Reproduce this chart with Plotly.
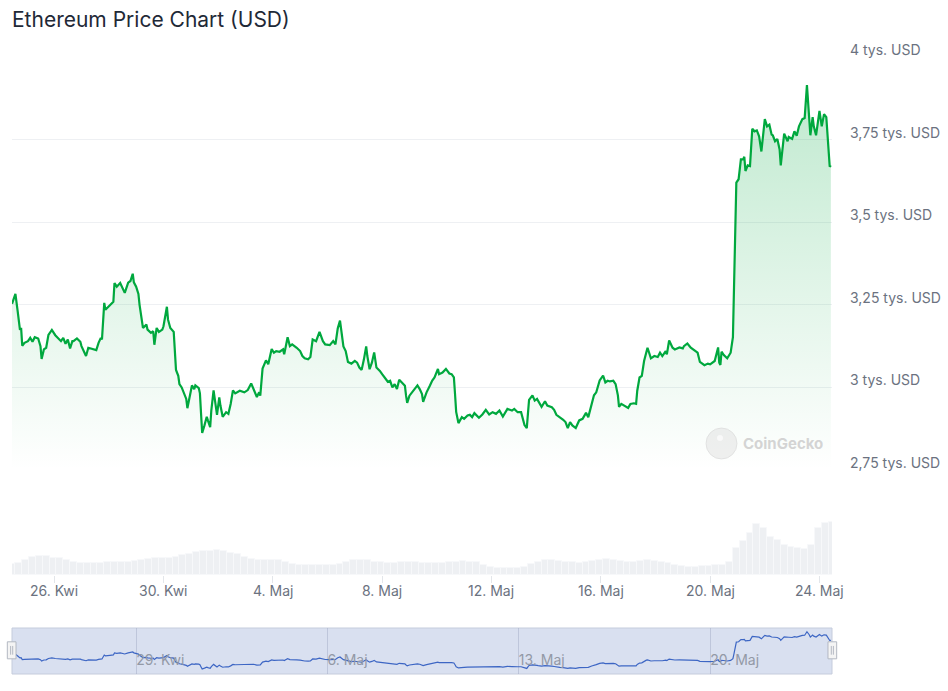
"""Ethereum price chart (USD), CoinGecko style, rebuilt with plotly."""
import pandas as pd
import plotly.graph_objects as go

# --- Data ---
START = pd.Timestamp("2024-04-24 11:00")
END = START + pd.Timedelta(hours=720)

# hours since START, price in USD
price_hours = [
    0, 3, 5, 7, 8, 9, 11, 14, 16, 18, 20, 23, 25, 26, 28, 30, 32, 35, 38, 40,
    43, 45, 47, 49, 51, 53, 54, 57, 60, 61, 65, 67, 69, 72, 74, 76, 78, 79, 81, 82,
    86, 89, 90, 92, 95, 97, 99, 102, 104, 106, 107, 109, 111, 112, 114, 115, 118, 119, 122, 124,
    125, 127, 129, 132, 133, 136, 137, 139, 142, 143, 144, 146, 147, 149, 151, 153, 154, 156, 158, 160,
    161, 164, 165, 166, 167, 169, 171, 172, 174, 175, 177, 180, 182, 183, 185, 188, 190, 192, 194, 196,
    200, 204, 207, 210, 212, 215, 217, 218, 220, 223, 225, 226, 228, 230, 232, 235, 238, 239, 242, 244,
    246, 250, 253, 255, 257, 260, 262, 264, 267, 270, 273, 275, 279, 282, 284, 286, 288, 291, 293, 295,
    298, 301, 303, 305, 307, 309, 311, 312, 314, 316, 318, 320, 323, 325, 327, 330, 332, 334, 336, 338,
    340, 343, 345, 346, 347, 349, 352, 354, 356, 358, 360, 361, 364, 367, 369, 371, 373, 374, 375, 378,
    381, 384, 386, 388, 389, 390, 392, 395, 397, 400, 402, 404, 406, 409, 410, 413, 416, 419, 422, 425,
    428, 431, 433, 435, 439, 441, 444, 447, 450, 452, 453, 454, 457, 459, 461, 462, 465, 468, 470, 474,
    476, 478, 481, 484, 486, 488, 490, 492, 495, 498, 501, 504, 506, 509, 511, 513, 516, 519, 521, 523,
    525, 528, 530, 532, 533, 535, 538, 541, 543, 546, 548, 549, 551, 553, 555, 557, 558, 561, 564, 567,
    569, 571, 574, 575, 577, 580, 582, 586, 589, 590, 593, 596, 598, 602, 604, 606, 608, 611, 613, 617,
    620, 621, 622, 623, 625, 628, 631, 633, 634, 635, 636, 638, 640, 642, 643, 644, 646, 648, 650, 652,
    654, 656, 658, 661, 663, 665, 667, 668, 670, 672, 674, 675, 678, 681, 682, 685, 687, 689, 691, 694,
    696, 698, 700, 701, 703, 704, 706, 709, 711, 713, 715, 717, 718, 719,
]
price_usd = [
    3253, 3283, 3230, 3174, 3180, 3126, 3135, 3140, 3150, 3138, 3152, 3148, 3125, 3086, 3115, 3120, 3159, 3174, 3158, 3150,
    3140, 3150, 3132, 3145, 3118, 3140, 3140, 3148, 3138, 3125, 3095, 3120, 3118, 3115, 3113, 3135, 3150, 3145, 3256, 3235,
    3248, 3259, 3316, 3305, 3316, 3300, 3286, 3317, 3322, 3344, 3318, 3305, 3283, 3250, 3204, 3180, 3190, 3175, 3165, 3170,
    3129, 3180, 3168, 3175, 3185, 3244, 3205, 3180, 3168, 3100, 3053, 3035, 3010, 3000, 2985, 2965, 2937, 2975, 3006, 2995,
    3006, 2998, 2982, 2920, 2862, 2885, 2911, 2900, 2880, 2930, 2991, 2917, 2970, 2945, 2911, 2925, 2920, 2950, 2991, 2982,
    2990, 2985, 2992, 3012, 2995, 2971, 2985, 2975, 3057, 3082, 3070, 3085, 3116, 3105, 3110, 3108, 3115, 3100, 3152, 3125,
    3130, 3120, 3110, 3095, 3088, 3085, 3092, 3145, 3140, 3168, 3140, 3130, 3128, 3140, 3130, 3178, 3202, 3124, 3110, 3077,
    3072, 3080, 3075, 3060, 3053, 3085, 3124, 3095, 3055, 3075, 3106, 3060, 3050, 3040, 3030, 3017, 3020, 3000, 3010, 2995,
    3023, 3012, 3005, 2975, 2953, 2975, 2990, 3000, 3006, 2995, 2980, 2956, 2985, 3006, 3021, 3030, 3045, 3056, 3040, 3045,
    3056, 3042, 3040, 3030, 2980, 2926, 2892, 2910, 2905, 2915, 2917, 2910, 2922, 2912, 2908, 2918, 2932, 2918, 2925, 2920,
    2930, 2912, 2925, 2935, 2930, 2935, 2925, 2925, 2886, 2877, 2920, 2962, 2976, 2960, 2965, 2958, 2941, 2958, 2945, 2940,
    2932, 2917, 2910, 2902, 2895, 2877, 2895, 2885, 2877, 2900, 2905, 2923, 2910, 2946, 2976, 2985, 3021, 3036, 3015, 3020,
    3018, 3020, 3010, 2976, 2941, 2950, 2945, 2938, 2950, 2952, 2950, 2990, 3030, 3035, 3080, 3112, 3120, 3088, 3095, 3092,
    3105, 3095, 3110, 3100, 3142, 3120, 3115, 3121, 3118, 3125, 3133, 3120, 3115, 3105, 3077, 3072, 3067, 3072, 3070, 3080,
    3121, 3075, 3068, 3108, 3098, 3088, 3105, 3152, 3300, 3438, 3620, 3630, 3690, 3690, 3698, 3655, 3672, 3670, 3783, 3775,
    3778, 3760, 3714, 3812, 3790, 3795, 3765, 3763, 3745, 3752, 3720, 3672, 3768, 3745, 3758, 3752, 3775, 3762, 3790, 3812,
    3815, 3915, 3830, 3763, 3818, 3790, 3763, 3837, 3790, 3827, 3818, 3703, 3668, 3672,
]

# 24h volume, one value every 6 hours from START (relative units)
volume = [
    11, 12, 14, 17, 18.5, 18, 16, 16, 14, 12.5, 12, 12, 12, 12, 12.5, 13, 13, 13, 13.5, 14.5,
    15.5, 16.5, 16.5, 16, 17.5, 19, 20.5, 22, 23, 23.5, 24, 23, 21.5, 20, 17.5, 15.5, 14.5, 14.3, 14.3, 14,
    12.5, 10.5, 9.3, 9.3, 9.5, 10, 10, 10, 11, 13, 14, 14.3, 14.3, 13, 12.5, 12, 12, 12.5, 13, 12.5,
    12, 12, 12, 12, 12.5, 13, 13.3, 13, 12.7, 10, 7.5, 6.8, 6.7, 6.7, 6.7, 8, 10.5, 13, 14, 14.3,
    13.5, 12.7, 12.3, 12, 12.5, 13.3, 14.5, 15.3, 14.5, 13.3, 13, 12.7, 13.3, 14, 13.7, 13, 11.5, 9.5, 8.3, 7.7,
    7.7, 8.3, 9, 9.5, 10, 13, 26, 33, 40, 49, 45, 36.5, 33.5, 29, 27, 26, 25.5, 29, 45, 50,
    51,
]

y_ticks = [2750, 3000, 3250, 3500, 3750, 4000]
y_tick_labels = ["2,75 tys. USD", "3 tys. USD", "3,25 tys. USD", "3,5 tys. USD", "3,75 tys. USD", "4 tys. USD"]

x_ticks = ["2024-04-26", "2024-04-30", "2024-05-04", "2024-05-08",
           "2024-05-12", "2024-05-16", "2024-05-20", "2024-05-24"]
x_tick_labels = ["26. Kwi", "30. Kwi", "4. Maj", "8. Maj", "12. Maj", "16. Maj", "20. Maj", "24. Maj"]

nav_ticks = ["2024-04-29", "2024-05-06", "2024-05-13", "2024-05-20"]
nav_tick_labels = ["29. Kwi", "6. Maj", "13. Maj", "20. Maj"]

# --- Styling ---
FONT = "Inter, 'Noto Sans', sans-serif"
GREEN = "#00a83e"
GRAY_TXT = "#6b7280"
GRID = "#eef0f3"
NAV_LINE = "#3d66c4"

price_x = START + pd.to_timedelta(price_hours, unit="h")
vol_x = pd.date_range(START, periods=len(volume), freq="6h")

fig = go.Figure()

# price area
fig.add_trace(go.Scatter(
    x=price_x, y=price_usd, mode="lines",
    line=dict(color=GREEN, width=2.2),
    fill="tozeroy",
    fillgradient=dict(
        type="vertical",
        colorscale=[[0, "rgba(0,168,62,0)"], [1, "rgba(0,168,62,0.25)"]],
        start=2750, stop=max(price_usd),
    ),
    xaxis="x", yaxis="y", hoverinfo="skip",
))

# volume bars (light, touching, with thin lighter seams)
fig.add_trace(go.Bar(
    x=vol_x, y=volume,
    width=6 * 3600 * 1000,
    marker=dict(color="#eef0f3", line=dict(color="#f7f8fa", width=1)),
    xaxis="x2", yaxis="y2", hoverinfo="skip",
))

# navigator line
fig.add_trace(go.Scatter(
    x=price_x, y=price_usd, mode="lines",
    line=dict(color=NAV_LINE, width=1.2),
    xaxis="x3", yaxis="y3", hoverinfo="skip",
))

# paper: top = 4k gridline, bottom = navigator bottom
M_T, M_B = 57, 17
PH = 691 - M_T - M_B


def py(px):
    return (691 - M_B - px) / PH


fig.update_layout(
    width=948, height=691,
    margin=dict(l=12, r=116, t=M_T, b=M_B),
    paper_bgcolor="white", plot_bgcolor="white",
    showlegend=False,
    bargap=0,
    font=dict(family=FONT, color=GRAY_TXT, size=14),
    title=dict(
        text="Ethereum Price Chart (USD)",
        x=0, xref="paper", xanchor="left",
        y=1 - 20 / 691, yanchor="middle",
        font=dict(family=FONT, size=21, color="#1f2937"),
    ),
    xaxis=dict(
        domain=[0, 1], range=[START, END], anchor="y",
        showticklabels=False, showgrid=False, zeroline=False,
    ),
    yaxis=dict(
        domain=[py(470), 1], range=[2750, 4000],
        tickvals=y_ticks, showticklabels=False,
        showgrid=True, gridcolor=GRID, gridwidth=1, zeroline=False,
    ),
    xaxis2=dict(
        domain=[0, 1], range=[START, END], anchor="y2",
        tickvals=x_ticks, showticklabels=False,
        ticks="outside", ticklen=7, tickcolor="#e3e6ea", tickwidth=1,
        showgrid=False, zeroline=False,
    ),
    yaxis2=dict(
        domain=[py(575), py(520)], range=[0, 53],
        showticklabels=False, showgrid=False, zeroline=False,
    ),
    xaxis3=dict(
        domain=[0, 1], range=[START, END], anchor="y3",
        tickvals=nav_ticks, ticktext=nav_tick_labels,
        ticklabelposition="inside right", ticks="",
        showgrid=True, gridcolor="rgba(140,150,180,0.35)", zeroline=False,
        tickfont=dict(family=FONT, size=14, color="#9399a6"),
    ),
    yaxis3=dict(
        domain=[0, py(628)], range=[2720, 4020],
        showticklabels=False, showgrid=False, zeroline=False,
    ),
)

# y tick labels sit just above their gridlines
for v, t in zip(y_ticks, y_tick_labels):
    fig.add_annotation(
        x=1, xref="paper", y=v, yref="y",
        text=t, showarrow=False, xanchor="left", yanchor="middle",
        xshift=16, yshift=7.5,
        font=dict(family=FONT, size=14, color=GRAY_TXT),
    )

# x tick labels under the volume pane
for d, t in zip(x_ticks, x_tick_labels):
    fig.add_annotation(
        x=d, xref="x2", y=py(590), yref="paper",
        text=t, showarrow=False, xanchor="center", yanchor="middle",
        font=dict(family=FONT, size=14, color=GRAY_TXT),
    )

# navigator mask + outline
fig.add_shape(
    type="rect", xref="x3 domain", yref="y3 domain", x0=0, x1=1, y0=0, y1=1,
    fillcolor="rgba(102,133,194,0.25)", line=dict(color="#c5ccdc", width=1), layer="below",
)
# navigator handles
for x0, x1 in [(-0.0057, 0.0049), (0.9951, 1.0057)]:
    fig.add_shape(
        type="rect", xref="x3 domain", yref="y3 domain", x0=x0, x1=x1, y0=0.33, y1=0.70,
        fillcolor="#f4f4f4", line=dict(color="#b3b8c2", width=1), layer="above",
    )
    for xi in (x0 + (x1 - x0) * 0.38, x0 + (x1 - x0) * 0.62):
        fig.add_shape(
            type="line", xref="x3 domain", yref="y3 domain", x0=xi, x1=xi, y0=0.42, y1=0.61,
            line=dict(color="#b3b8c2", width=1), layer="above",
        )

# CoinGecko watermark
fig.add_shape(
    type="circle", xref="paper", yref="paper",
    x0=(706 - 12) / 820, x1=(737 - 12) / 820, y0=py(459), y1=py(428),
    fillcolor="rgba(225,225,225,0.55)", line=dict(color="rgba(215,215,215,0.6)", width=1),
    layer="above",
)
fig.add_shape(
    type="circle", xref="paper", yref="paper",
    x0=(717 - 12) / 820, x1=(723 - 12) / 820, y0=py(441), y1=py(435),
    fillcolor="rgba(250,250,250,0.9)", line=dict(width=0), layer="above",
)
fig.add_annotation(
    x=(741 - 12) / 820, xref="paper", y=py(443), yref="paper",
    text="<b>CoinGecko</b>", showarrow=False, xanchor="left", yanchor="middle",
    font=dict(family=FONT, size=15, color="rgba(205,205,205,0.85)"),
)

fig.write_html("out.html", config={"displayModeBar": False},
               post_script="document.body.style.margin='0px';")
